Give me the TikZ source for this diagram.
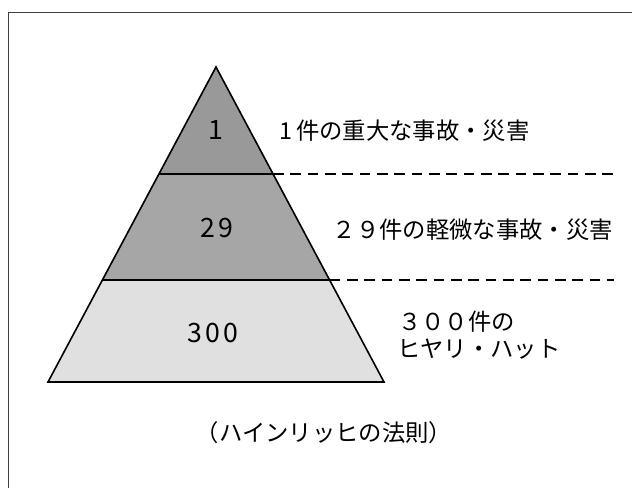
\documentclass[tikz,border=0pt]{standalone}
\usepackage{fontspec}
\setmainfont{Noto Sans CJK JP}
\tikzset{
  frame/.style={draw=black!75, line width=0.6pt},
  outline/.style={draw=black, line width=1.2pt, line join=miter},
  divider/.style={draw=black, line width=0.8pt},
  dashline/.style={draw=black, line width=0.8pt, dash pattern=on 8pt off 5pt},
  lbl/.style={inner sep=0pt, font=\fontsize{17.5pt}{20pt}\selectfont},
  num/.style={inner sep=0pt, font=\fontsize{20pt}{22pt}\selectfont\addfontfeature{LetterSpace=12}},
}
\begin{document}
\begin{tikzpicture}[x=0.75pt,y=-0.75pt]
\useasboundingbox (0,0) rectangle (632,488);
% frame (only top and left visible)
\coordinate (fbl) at (8,488);
\coordinate (ftl) at (8,12);
\coordinate (ftr) at (632,12);
\draw[frame] (fbl) -- (ftl) -- (ftr);
% pyramid corners
\coordinate (apex) at (216,67);
\coordinate (bl) at (48,382);
\coordinate (br) at (384,382);
\coordinate (d1l) at (158.9,174);
\coordinate (d1r) at (273.1,174);
\coordinate (d2l) at (102.4,280);
\coordinate (d2r) at (329.6,280);
\coordinate (e1) at (614,174);
\coordinate (e2) at (614,280);
% fills
\fill[black!40] (apex) -- (d1r) -- (d1l) -- cycle;
\fill[black!35] (d1l) -- (d1r) -- (d2r) -- (d2l) -- cycle;
\fill[black!12] (d2l) -- (d2r) -- (br) -- (bl) -- cycle;
% dividers
\draw[divider] (d1l) -- (d1r);
\draw[divider] (d2l) -- (d2r);
\draw[dashline] (d1r) -- (e1);
\draw[dashline] (d2r) -- (e2);
\draw[outline] (apex) -- (br) -- (bl) -- cycle;
% numbers
\node[num] (n1) at (216,130) {1};
\node[num] (n29) at (217,228) {29};
\node[num] (n300) at (213,333) {300};
% labels
\node[lbl, anchor=west] (l1) at (279,131) {1\hspace{3pt}件の重大な事故・災害};
\node[lbl, anchor=east] (l2) at (613,230) {２９件の軽微な事故・災害};
\node[lbl, anchor=west] (l3a) at (398,322) {３００件の};
\node[lbl, anchor=west] (l3b) at (397,349) {ヒヤリ・ハット};
\node[lbl] (title) at (324,433) {（ハインリッヒの法則）};
\end{tikzpicture}
\end{document}
